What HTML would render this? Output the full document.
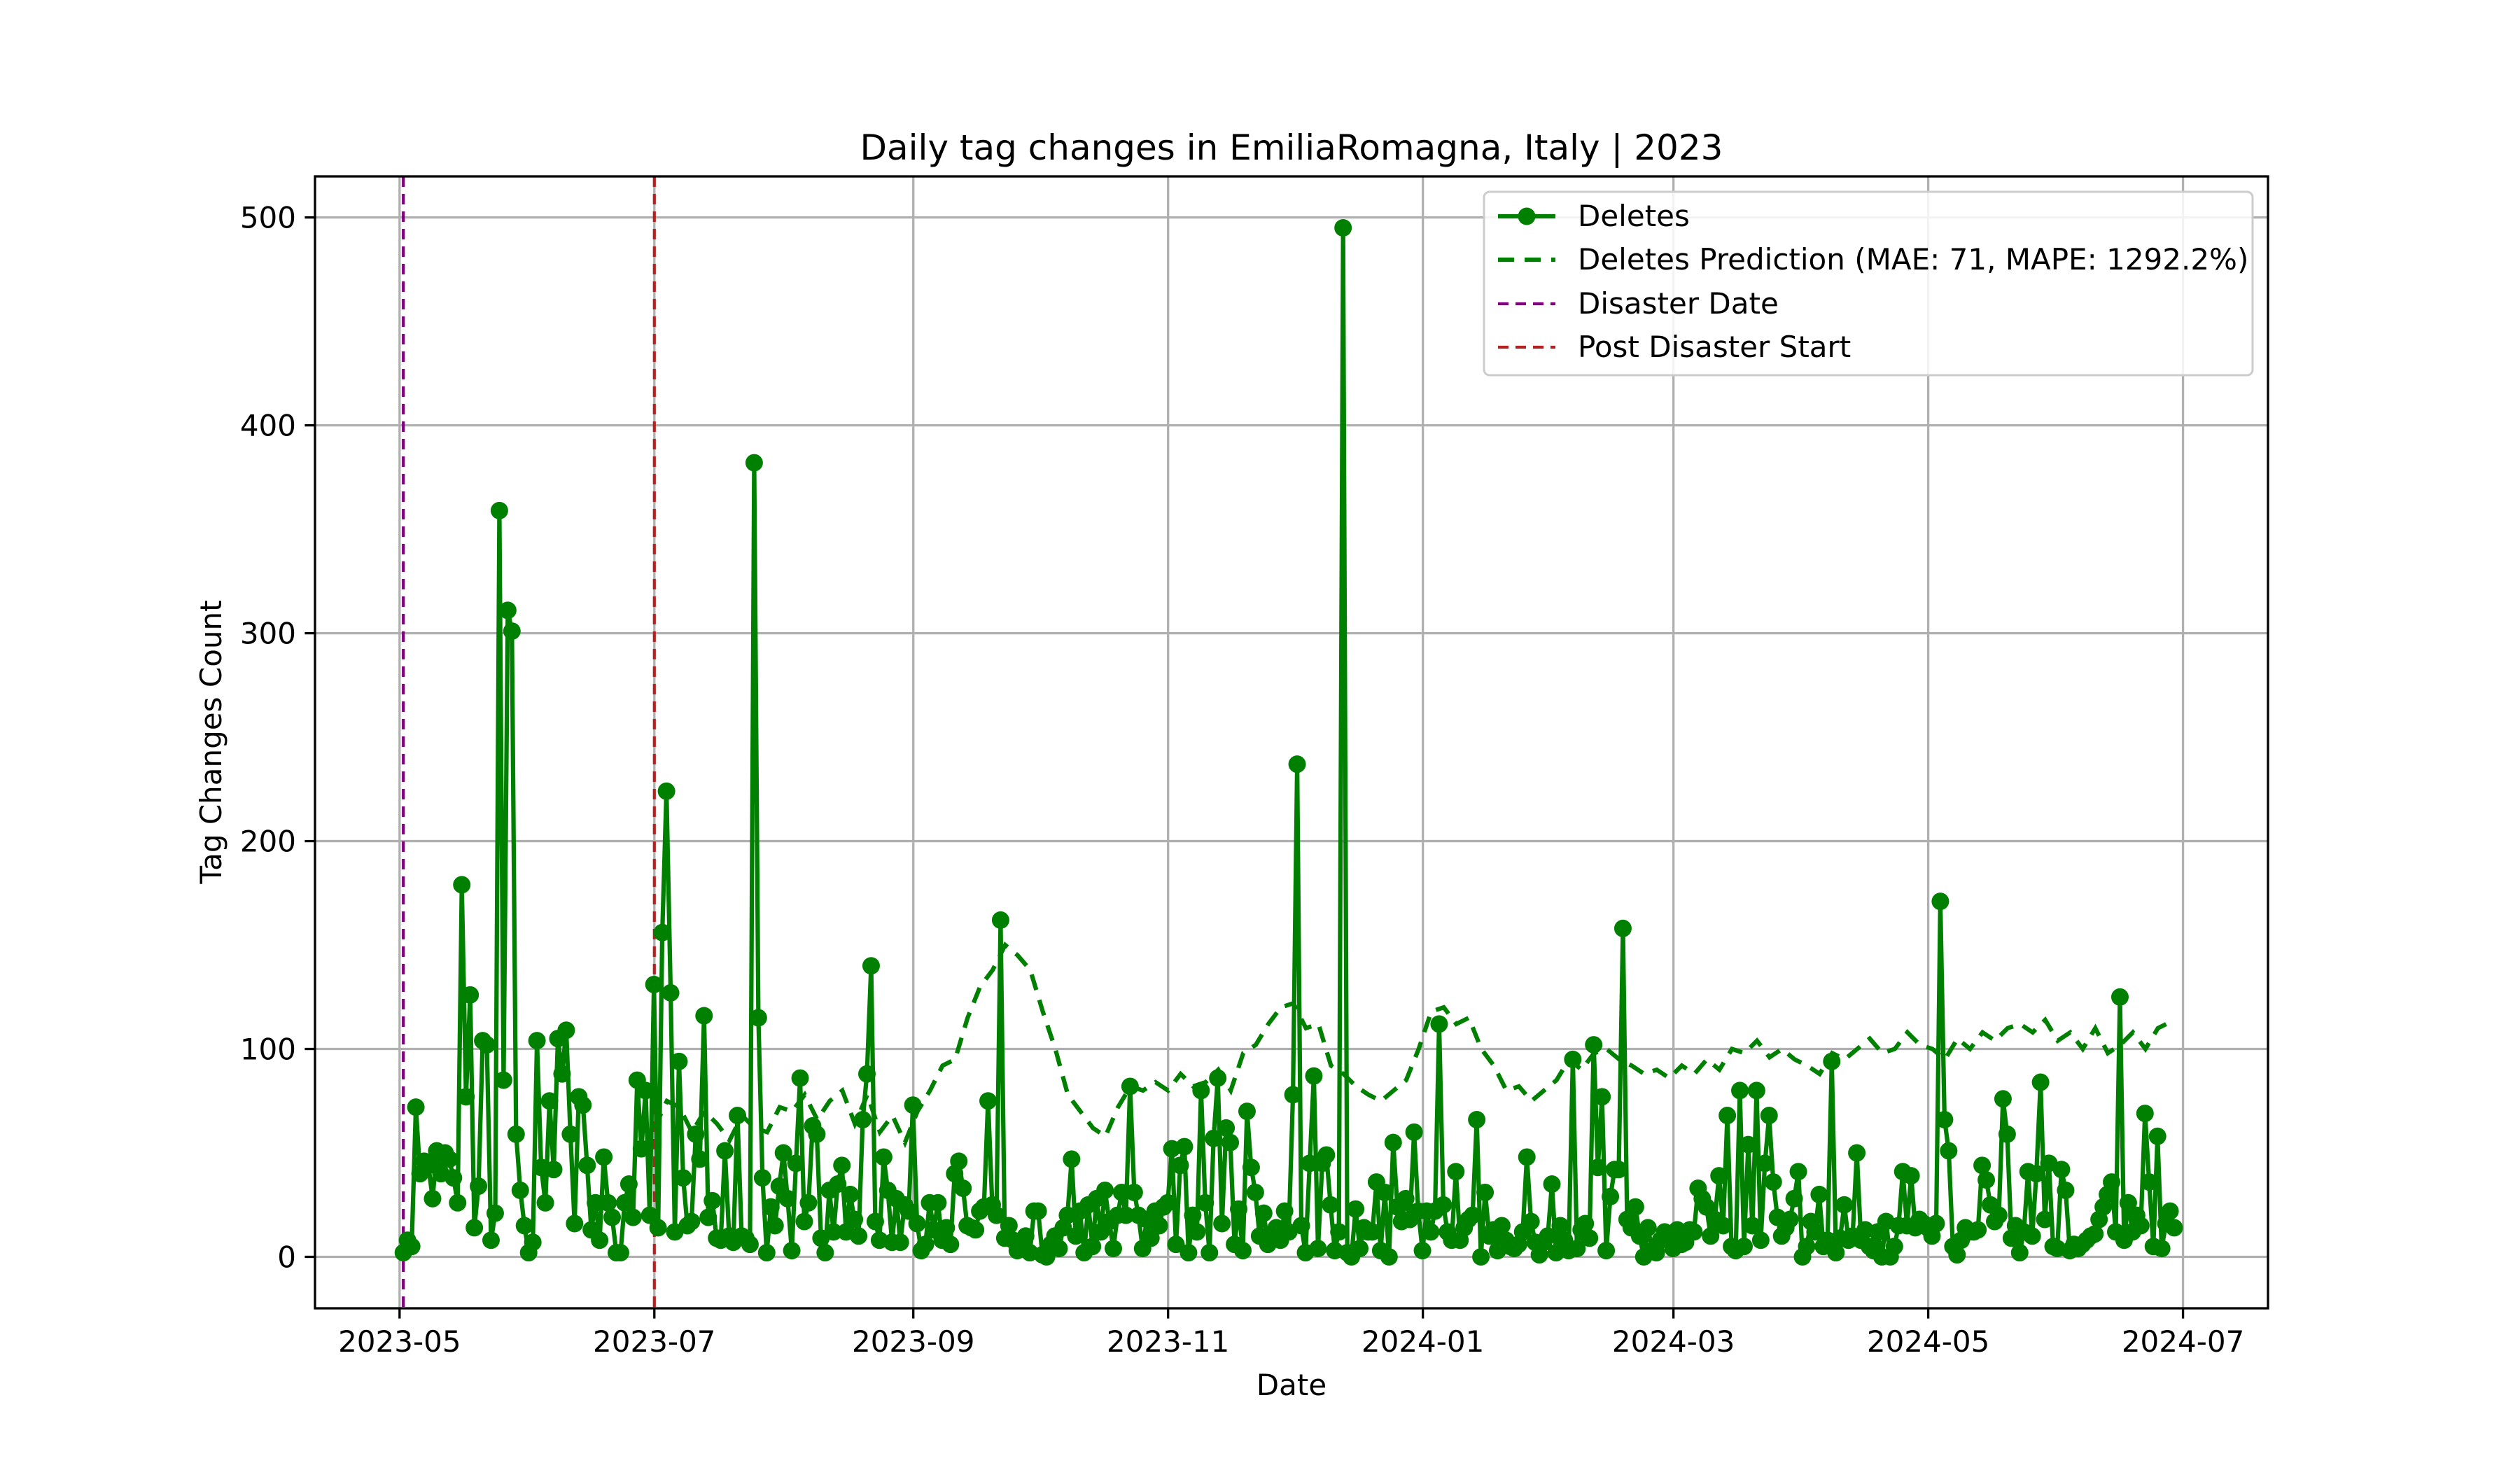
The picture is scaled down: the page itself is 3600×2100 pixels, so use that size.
<!DOCTYPE html>
<html><head><meta charset="utf-8"><style>
html,body{margin:0;padding:0;background:#fff;}
svg{display:block;font-family:"DejaVu Sans","Liberation Sans",sans-serif;}
</style></head><body>
<svg id="chart" width="3600" height="2100" viewBox="0 0 3600 2100" xmlns="http://www.w3.org/2000/svg">
<rect x="0" y="0" width="3600" height="2100" fill="#fff"/>
<text x="1845" y="228" font-size="50" text-anchor="middle">Daily tag changes in EmiliaRomagna, Italy | 2023</text>
<text x="1845" y="1993" font-size="42" text-anchor="middle">Date</text>
<text x="316" y="1060" font-size="42" text-anchor="middle" transform="rotate(-90 316 1060)">Tag Changes Count</text>
<g id="grid"></g>
<g id="vlines"></g>
<g id="series"></g>
<rect x="450" y="252" width="2790" height="1617" fill="none" stroke="#000" stroke-width="3.3"/>
<g id="ticks"></g>
<g id="legend">
<rect x="2120" y="274" width="1098" height="262" rx="8" fill="#fff" fill-opacity="0.85" stroke="#ccc" stroke-width="3"/>
<g>
<line x1="2140" y1="309" x2="2222" y2="309" stroke="#008000" stroke-width="6.25"/>
<circle cx="2181" cy="309" r="12.5" fill="#008000"/>
<text x="2254" y="323" font-size="42">Deletes</text></g>
<g>
<line x1="2140" y1="371" x2="2222" y2="371" stroke="#008000" stroke-width="6.25" stroke-dasharray="23 15"/>
<text x="2254" y="385" font-size="42">Deletes Prediction (MAE: 71, MAPE: 1292.2%)</text></g>
<g>
<line x1="2140" y1="434" x2="2222" y2="434" stroke="#800080" stroke-width="4.2" stroke-dasharray="15 10"/>
<text x="2254" y="448" font-size="42">Disaster Date</text></g>
<g>
<line x1="2140" y1="496" x2="2222" y2="496" stroke="#b22222" stroke-width="4.2" stroke-dasharray="15 10"/>
<text x="2254" y="510" font-size="42">Post Disaster Start</text></g>
</g>
</svg>
<script>
const deletes = [
2,8,5,72,40,46,44,28,51,40,50,47,38,26,179,77,126,14,34,104,102,8,21,359,85,311,301,59,32,15,2,7,
104,43,26,75,42,105,88,109,59,16,77,73,44,13,26,8,48,26,19,2,2,26,35,19,85,52,80,20,131,
14,156,224,127,12,94,38,15,17,59,47,116,19,27,9,8,51,10,7,68,10,9,6,382,115,38,2,24,15,34,50,28,
3,45,86,17,26,63,59,9,2,32,12,35,44,12,30,18,10,66,88,140,17,8,48,32,7,28,7,25,22,73,16,3,6,
26,13,26,8,14,6,40,46,33,15,14,13,22,24,75,25,20,162,9,15,8,3,4,10,2,22,22,1,0,6,
10,4,14,20,47,10,22,2,25,5,28,12,32,17,4,20,31,20,82,31,20,4,18,9,22,15,24,26,52,6,44,
53,2,20,12,80,26,2,57,86,16,62,55,6,23,3,70,43,31,10,21,6,10,14,8,22,12,78,237,
15,2,45,87,4,45,49,25,3,12,495,2,0,23,4,14,12,12,36,3,31,0,55,24,17,28,18,60,22,3,22,
12,22,112,25,12,8,41,8,14,18,20,66,0,31,10,13,3,15,8,5,4,6,12,48,17,7,1,7,10,35,2,15,8,3,95,4,13,16,9,102,43,77,3,29,42,42,158,
18,14,24,10,0,14,3,2,8,12,8,4,13,6,7,13,12,33,28,24,10,18,39,15,68,5,3,80,5,54,15,80,8,45,68,36,19,10,14,18,28,41,0,5,17,12,30,5,8,94,
2,9,25,8,10,50,8,13,5,3,12,0,17,0,5,15,41,15,39,14,18,16,14,10,16,171,
66,51,5,1,8,14,12,12,13,44,37,25,17,20,76,59,9,15,2,12,41,10,40,84,18,45,5,4,42,32,3,6,4,6,8,10,11,18,24,30,36,12,125,
8,26,12,20,15,69,36,5,58,4,16,22,14
];
const prediction = [
62,75,72,60,70,64,56,68,62,60,72,
70,78,66,75,80,64,78,60,68,55,
70,80,92,95,115,130,138,150,145,138,
118,100,78,70,62,58,72,82,80,84,
80,88,82,84,90,80,98,102,112,120,
122,110,112,92,88,82,78,75,80,85,
100,118,120,112,115,100,92,80,82,75,
80,85,95,90,98,100,95,92,88,90,
86,92,88,95,90,100,98,104,96,100,
95,92,88,98,95,100,105,98,100,108,
102,100,95,105,100,108,104,110,112,108,
114,104,108,100,110,98,102,108,100,110,113
];
const yTicks = [0,100,200,300,400,500];
const xTickLabels = ["2023-05","2023-07","2023-09","2023-11","2024-01","2024-03","2024-05","2024-07"];
const xTickDays = [0,61,123,184,245,305,366,427];
const disasterDay = 0.9;
const postDisasterDay = 61;
const firstDay = 0.9;
const predStartDay = 61;
const predStep = 3;

const NS="http://www.w3.org/2000/svg";
const X0=450,X1=3240,Y0=252,Y1=1869;
const xMin=-20.25,xMax=447.35,yMin=-24.75,yMax=519.75;
function xs(d){return X0+(d-xMin)/(xMax-xMin)*(X1-X0);}
function ys(v){return Y1-(v-yMin)/(yMax-yMin)*(Y1-Y0);}
function mk(tag,attrs,parent){const e=document.createElementNS(NS,tag);for(const k in attrs)e.setAttribute(k,attrs[k]);parent.appendChild(e);return e;}
const grid=document.getElementById('grid'),ticks=document.getElementById('ticks'),vl=document.getElementById('vlines'),ser=document.getElementById('series');

yTicks.forEach(v=>{
  const g=mk('line',{x1:X0,x2:X1,y1:ys(v),y2:ys(v),stroke:'#b0b0b0','stroke-width':3.3},grid);
  
  
  const t=mk('line',{x1:X0-14.6,x2:X0,y1:ys(v),y2:ys(v),stroke:'#000','stroke-width':3.3},ticks);
  
  
  const l=mk('text',{x:X0-27,y:ys(v)+15,'font-size':42,'text-anchor':'end'},ticks);
  l.textContent=v;
  
  
});
xTickDays.forEach((d,i)=>{
  const g=mk('line',{x1:xs(d),x2:xs(d),y1:Y0,y2:Y1,stroke:'#b0b0b0','stroke-width':3.3},grid);
  
  
  const t=mk('line',{x1:xs(d),x2:xs(d),y1:Y1,y2:Y1+14.6,stroke:'#000','stroke-width':3.3},ticks);
  
  
  const l=mk('text',{x:xs(d),y:Y1+62,'font-size':42,'text-anchor':'middle'},ticks);
  l.textContent=xTickLabels[i];
  
  
});
const dl=mk('line',{x1:xs(disasterDay),x2:xs(disasterDay),y1:Y0,y2:Y1,stroke:'#800080','stroke-width':4.2,'stroke-dasharray':'15 10'},vl);


const pl=mk('line',{x1:xs(postDisasterDay),x2:xs(postDisasterDay),y1:Y0,y2:Y1,stroke:'#b22222','stroke-width':4.2,'stroke-dasharray':'15 10'},vl);



const dpts=deletes.map((v,i)=>xs(firstDay+i).toFixed(1)+','+ys(v).toFixed(1)).join(' ');
const dline=mk('polyline',{points:dpts,fill:'none',stroke:'#008000','stroke-width':6.25,'stroke-linejoin':'round'},ser);


deletes.forEach((v,i)=>{
  const c=mk('circle',{cx:xs(firstDay+i),cy:ys(v),r:12.5,fill:'#008000'},ser);
  
  
});
const ppts=prediction.map((v,i)=>xs(predStartDay+i*predStep).toFixed(1)+','+ys(v).toFixed(1)).join(' ');
const pline=mk('polyline',{points:ppts,fill:'none',stroke:'#008000','stroke-width':6.25,'stroke-dasharray':'23 15'},ser);


</script>
</body></html>
